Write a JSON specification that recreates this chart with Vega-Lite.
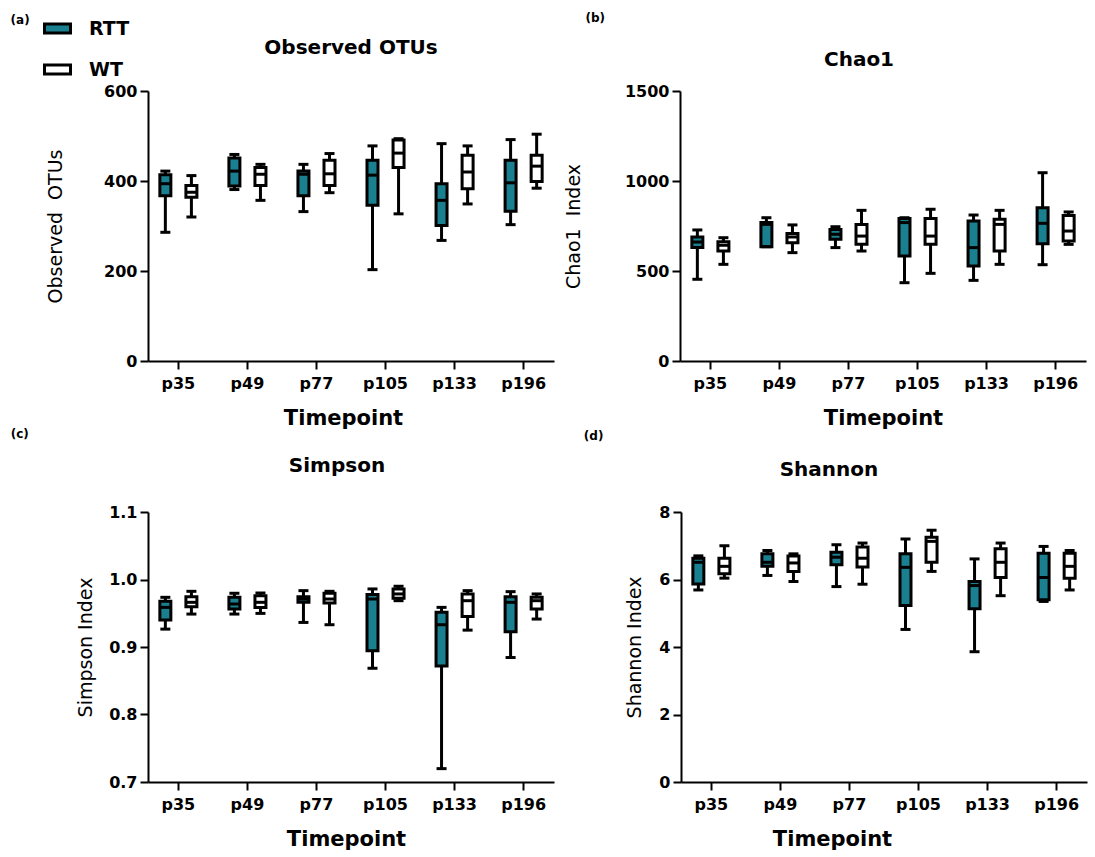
{
"$schema": "https://vega.github.io/schema/vega-lite/v6.json",
"background": "white",
"padding": {"left": 10, "top": 12, "right": 2, "bottom": 2},
"config": {
  "view": {"stroke": null},
  "font": "DejaVu Sans",
  "axis": {"domainColor": "black", "domainWidth": 2, "tickColor": "black", "tickWidth": 2, "tickSize": 8, "labelFont": "DejaVu Sans", "labelFontWeight": "bold", "labelFontSize": 16, "labelColor": "black", "titleFont": "DejaVu Sans", "titleColor": "black", "grid": false, "labelPadding": 3},
  "axisX": {"titleFontWeight": "bold", "titleFontSize": 21, "labelAngle": 0, "titlePadding": 16, "labelPadding": 6},
  "axisY": {"titleFontWeight": "normal", "titleFontSize": 19},
  "title": {"font": "DejaVu Sans", "fontSize": 20, "fontWeight": "bold", "color": "black"}
},
"datasets": {
  "obs": [
    {"t":"p35","g":"RTT","min":286,"q1":367,"med":394,"q3":414,"max":422},
    {"t":"p35","g":"WT","min":320,"q1":364,"med":375,"q3":390,"max":412},
    {"t":"p49","g":"RTT","min":381,"q1":389,"med":422,"q3":451,"max":459},
    {"t":"p49","g":"WT","min":357,"q1":390,"med":415,"q3":430,"max":437},
    {"t":"p77","g":"RTT","min":332,"q1":367,"med":415,"q3":422,"max":437},
    {"t":"p77","g":"WT","min":374,"q1":390,"med":416,"q3":446,"max":461},
    {"t":"p105","g":"RTT","min":203,"q1":346,"med":413,"q3":446,"max":478},
    {"t":"p105","g":"WT","min":327,"q1":430,"med":462,"q3":491,"max":494},
    {"t":"p133","g":"RTT","min":268,"q1":301,"med":357,"q3":394,"max":483},
    {"t":"p133","g":"WT","min":349,"q1":383,"med":420,"q3":457,"max":478},
    {"t":"p196","g":"RTT","min":303,"q1":333,"med":396,"q3":446,"max":492},
    {"t":"p196","g":"WT","min":384,"q1":399,"med":433,"q3":457,"max":504}
  ],
  "chao": [
    {"t":"p35","g":"RTT","min":454,"q1":630,"med":661,"q3":689,"max":728},
    {"t":"p35","g":"WT","min":537,"q1":611,"med":643,"q3":663,"max":685},
    {"t":"p49","g":"RTT","min":635,"q1":635,"med":759,"q3":769,"max":796},
    {"t":"p49","g":"WT","min":602,"q1":657,"med":689,"q3":709,"max":756},
    {"t":"p77","g":"RTT","min":630,"q1":676,"med":704,"q3":731,"max":746},
    {"t":"p77","g":"WT","min":611,"q1":648,"med":694,"q3":759,"max":837},
    {"t":"p105","g":"RTT","min":435,"q1":583,"med":769,"q3":791,"max":796},
    {"t":"p105","g":"WT","min":487,"q1":648,"med":694,"q3":791,"max":843},
    {"t":"p133","g":"RTT","min":448,"q1":528,"med":630,"q3":778,"max":811},
    {"t":"p133","g":"WT","min":537,"q1":611,"med":759,"q3":787,"max":837},
    {"t":"p196","g":"RTT","min":535,"q1":652,"med":765,"q3":852,"max":1046},
    {"t":"p196","g":"WT","min":648,"q1":667,"med":722,"q3":809,"max":828}
  ],
  "simpson": [
    {"t":"p35","g":"RTT","min":0.9265,"q1":0.9399,"med":0.9587,"q3":0.9677,"max":0.9736},
    {"t":"p35","g":"WT","min":0.9488,"q1":0.9597,"med":0.9662,"q3":0.9746,"max":0.9825},
    {"t":"p49","g":"RTT","min":0.9488,"q1":0.9563,"med":0.9637,"q3":0.9736,"max":0.9796},
    {"t":"p49","g":"WT","min":0.9498,"q1":0.9587,"med":0.9662,"q3":0.976,"max":0.98},
    {"t":"p77","g":"RTT","min":0.9364,"q1":0.9662,"med":0.9711,"q3":0.9746,"max":0.9835},
    {"t":"p77","g":"WT","min":0.933,"q1":0.9652,"med":0.9711,"q3":0.9796,"max":0.9825},
    {"t":"p105","g":"RTT","min":0.8685,"q1":0.8943,"med":0.9711,"q3":0.9776,"max":0.986},
    {"t":"p105","g":"WT","min":0.9686,"q1":0.9721,"med":0.9786,"q3":0.986,"max":0.99},
    {"t":"p133","g":"RTT","min":0.7198,"q1":0.872,"med":0.933,"q3":0.9513,"max":0.9587},
    {"t":"p133","g":"WT","min":0.925,"q1":0.9453,"med":0.9686,"q3":0.9786,"max":0.9835},
    {"t":"p196","g":"RTT","min":0.8844,"q1":0.9226,"med":0.9662,"q3":0.9746,"max":0.982},
    {"t":"p196","g":"WT","min":0.9414,"q1":0.9563,"med":0.9686,"q3":0.9736,"max":0.9786}
  ],
  "shannon": [
    {"t":"p35","g":"RTT","min":5.69,"q1":5.87,"med":6.51,"q3":6.63,"max":6.70},
    {"t":"p35","g":"WT","min":6.04,"q1":6.17,"med":6.39,"q3":6.63,"max":7.0},
    {"t":"p49","g":"RTT","min":6.12,"q1":6.39,"med":6.51,"q3":6.76,"max":6.86},
    {"t":"p49","g":"WT","min":5.94,"q1":6.24,"med":6.49,"q3":6.70,"max":6.76},
    {"t":"p77","g":"RTT","min":5.79,"q1":6.44,"med":6.66,"q3":6.81,"max":7.03},
    {"t":"p77","g":"WT","min":5.86,"q1":6.37,"med":6.63,"q3":6.96,"max":7.08},
    {"t":"p105","g":"RTT","min":4.52,"q1":5.23,"med":6.36,"q3":6.76,"max":7.20},
    {"t":"p105","g":"WT","min":6.24,"q1":6.51,"med":7.13,"q3":7.25,"max":7.46},
    {"t":"p133","g":"RTT","min":3.86,"q1":5.13,"med":5.82,"q3":5.94,"max":6.61},
    {"t":"p133","g":"WT","min":5.52,"q1":6.06,"med":6.51,"q3":6.91,"max":7.08},
    {"t":"p196","g":"RTT","min":5.35,"q1":5.40,"med":6.06,"q3":6.78,"max":6.98},
    {"t":"p196","g":"WT","min":5.69,"q1":6.04,"med":6.39,"q3":6.78,"max":6.86}
  ]
},
"spacing": 0,
"vconcat": [
 {"spacing": 10,
  "hconcat": [
  {"title": {"text": "(a)", "anchor": "start", "frame": "bounds", "fontSize": 12, "offset": 11, "dx": -36},
   "vconcat": [
    {"width": 406, "height": 270,
     "title": {"text": "Observed OTUs", "offset": 25},
     "data": {"name": "obs"},
     "encoding": {
       "x": {"field": "t", "type": "nominal", "sort": ["p35","p49","p77","p105","p133","p196"], "scale": {"paddingInner": 0.2, "paddingOuter": 0.04}, "axis": {"title": "Timepoint", "titleX": 195}},
       "xOffset": {"field": "g", "type": "nominal", "sort": ["RTT","WT"], "scale": {"paddingInner": 0, "paddingOuter": 0.06}}
     },
     "layer": [
      {"mark": {"type": "rule", "strokeWidth": 3, "color": "black"},
       "encoding": {"y": {"field": "min", "type": "quantitative", "scale": {"domain": [0, 600], "nice": false}, "axis": {"title": "Observed\u00a0 OTUs", "values": [0, 200, 400, 600], "titlePadding": 38}}, "y2": {"field": "max"}}},
      {"mark": {"type": "bar", "stroke": "black", "strokeWidth": 3, "size": 11, "fillOpacity": 1},
       "encoding": {"y": {"field": "q1", "type": "quantitative", "scale": {"domain": [0, 600], "nice": false}, "axis": {"title": "Observed\u00a0 OTUs", "values": [0, 200, 400, 600], "titlePadding": 38}}, "y2": {"field": "q3"},
        "fill": {"field": "g", "type": "nominal", "scale": {"domain": ["RTT","WT"], "range": ["#1a7f8e", "#ffffff"]},
          "legend": {"title": null, "orient": "none", "legendX": -105, "legendY": -77, "symbolType": "M-1,-0.35H1V0.35H-1Z", "symbolSize": 676, "symbolStrokeWidth": 3, "symbolStrokeColor": "black", "symbolOpacity": 1, "labelFontSize": 19, "labelFontWeight": "bold", "labelFont": "DejaVu Sans", "labelColor": "black", "rowPadding": 15, "labelOffset": 17}}}},
      {"mark": {"type": "tick", "color": "black", "thickness": 3, "size": 11, "opacity": 1},
       "encoding": {"y": {"field": "med", "type": "quantitative", "scale": {"domain": [0, 600], "nice": false}, "axis": {"title": "Observed\u00a0 OTUs", "values": [0, 200, 400, 600], "titlePadding": 38}}}},
      {"mark": {"type": "tick", "color": "black", "thickness": 3, "size": 10, "opacity": 1},
       "encoding": {"y": {"field": "min", "type": "quantitative", "scale": {"domain": [0, 600], "nice": false}, "axis": {"title": "Observed\u00a0 OTUs", "values": [0, 200, 400, 600], "titlePadding": 38}}}},
      {"mark": {"type": "tick", "color": "black", "thickness": 3, "size": 10, "opacity": 1},
       "encoding": {"y": {"field": "max", "type": "quantitative", "scale": {"domain": [0, 600], "nice": false}, "axis": {"title": "Observed\u00a0 OTUs", "values": [0, 200, 400, 600], "titlePadding": 38}}}}
     ]}
   ]},
  {"title": {"text": "(b)", "anchor": "start", "frame": "bounds", "fontSize": 12, "offset": 25, "dx": 21},
   "vconcat": [
    {"width": 406, "height": 270,
     "title": {"text": "Chao1", "offset": 13, "dx": -24},
     "data": {"name": "chao"},
     "encoding": {
       "x": {"field": "t", "type": "nominal", "sort": ["p35","p49","p77","p105","p133","p196"], "scale": {"paddingInner": 0.2, "paddingOuter": 0.04}, "axis": {"title": "Timepoint"}},
       "xOffset": {"field": "g", "type": "nominal", "sort": ["RTT","WT"], "scale": {"paddingInner": 0, "paddingOuter": 0.06}}
     },
     "layer": [
      {"mark": {"type": "rule", "strokeWidth": 3, "color": "black"},
       "encoding": {"y": {"field": "min", "type": "quantitative", "scale": {"domain": [0, 1500], "nice": false}, "axis": {"title": "Chao1\u00a0 Index", "values": [0, 500, 1000, 1500], "format": "d", "titlePadding": 41}}, "y2": {"field": "max"}}},
      {"mark": {"type": "bar", "stroke": "black", "strokeWidth": 3, "size": 11, "fillOpacity": 1},
       "encoding": {"y": {"field": "q1", "type": "quantitative", "scale": {"domain": [0, 1500], "nice": false}, "axis": {"title": "Chao1\u00a0 Index", "values": [0, 500, 1000, 1500], "format": "d", "titlePadding": 41}}, "y2": {"field": "q3"},
        "fill": {"field": "g", "type": "nominal", "scale": {"domain": ["RTT","WT"], "range": ["#1a7f8e", "#ffffff"]}, "legend": null}}},
      {"mark": {"type": "tick", "color": "black", "thickness": 3, "size": 11, "opacity": 1},
       "encoding": {"y": {"field": "med", "type": "quantitative", "scale": {"domain": [0, 1500], "nice": false}, "axis": {"title": "Chao1\u00a0 Index", "values": [0, 500, 1000, 1500], "format": "d", "titlePadding": 41}}}},
      {"mark": {"type": "tick", "color": "black", "thickness": 3, "size": 10, "opacity": 1},
       "encoding": {"y": {"field": "min", "type": "quantitative", "scale": {"domain": [0, 1500], "nice": false}, "axis": {"title": "Chao1\u00a0 Index", "values": [0, 500, 1000, 1500], "format": "d", "titlePadding": 41}}}},
      {"mark": {"type": "tick", "color": "black", "thickness": 3, "size": 10, "opacity": 1},
       "encoding": {"y": {"field": "max", "type": "quantitative", "scale": {"domain": [0, 1500], "nice": false}, "axis": {"title": "Chao1\u00a0 Index", "values": [0, 500, 1000, 1500], "format": "d", "titlePadding": 41}}}}
     ]}
   ]}
 ]},
 {"spacing": 29,
  "hconcat": [
  {"title": {"text": "(c)", "anchor": "start", "frame": "bounds", "fontSize": 12, "offset": 15, "dx": -66},
   "vconcat": [
    {"width": 406, "height": 270,
     "title": {"text": "Simpson", "offset": 28, "dx": -14},
     "data": {"name": "simpson"},
     "encoding": {
       "x": {"field": "t", "type": "nominal", "sort": ["p35","p49","p77","p105","p133","p196"], "scale": {"paddingInner": 0.2, "paddingOuter": 0.04}, "axis": {"title": "Timepoint", "titleX": 198}},
       "xOffset": {"field": "g", "type": "nominal", "sort": ["RTT","WT"], "scale": {"paddingInner": 0, "paddingOuter": 0.06}}
     },
     "layer": [
      {"mark": {"type": "rule", "strokeWidth": 3, "color": "black"},
       "encoding": {"y": {"field": "min", "type": "quantitative", "scale": {"domain": [0.7, 1.1], "nice": false, "zero": false}, "axis": {"title": "Simpson Index", "values": [0.7, 0.8, 0.9, 1.0, 1.1], "format": ".1f", "titlePadding": 13}}, "y2": {"field": "max"}}},
      {"mark": {"type": "bar", "stroke": "black", "strokeWidth": 3, "size": 11, "fillOpacity": 1},
       "encoding": {"y": {"field": "q1", "type": "quantitative", "scale": {"domain": [0.7, 1.1], "nice": false, "zero": false}, "axis": {"title": "Simpson Index", "values": [0.7, 0.8, 0.9, 1.0, 1.1], "format": ".1f", "titlePadding": 13}}, "y2": {"field": "q3"},
        "fill": {"field": "g", "type": "nominal", "scale": {"domain": ["RTT","WT"], "range": ["#1a7f8e", "#ffffff"]}, "legend": null}}},
      {"mark": {"type": "tick", "color": "black", "thickness": 3, "size": 11, "opacity": 1},
       "encoding": {"y": {"field": "med", "type": "quantitative", "scale": {"domain": [0.7, 1.1], "nice": false, "zero": false}, "axis": {"title": "Simpson Index", "values": [0.7, 0.8, 0.9, 1.0, 1.1], "format": ".1f", "titlePadding": 13}}}},
      {"mark": {"type": "tick", "color": "black", "thickness": 3, "size": 10, "opacity": 1},
       "encoding": {"y": {"field": "min", "type": "quantitative", "scale": {"domain": [0.7, 1.1], "nice": false, "zero": false}, "axis": {"title": "Simpson Index", "values": [0.7, 0.8, 0.9, 1.0, 1.1], "format": ".1f", "titlePadding": 13}}}},
      {"mark": {"type": "tick", "color": "black", "thickness": 3, "size": 10, "opacity": 1},
       "encoding": {"y": {"field": "max", "type": "quantitative", "scale": {"domain": [0.7, 1.1], "nice": false, "zero": false}, "axis": {"title": "Simpson Index", "values": [0.7, 0.8, 0.9, 1.0, 1.1], "format": ".1f", "titlePadding": 13}}}}
     ]}
   ]},
  {"title": {"text": "(d)", "anchor": "start", "frame": "bounds", "fontSize": 12, "offset": 17, "dx": -42},
   "vconcat": [
    {"width": 406, "height": 270,
     "title": {"text": "Shannon", "offset": 24, "dx": -55},
     "data": {"name": "shannon"},
     "encoding": {
       "x": {"field": "t", "type": "nominal", "sort": ["p35","p49","p77","p105","p133","p196"], "scale": {"paddingInner": 0.2, "paddingOuter": 0.04}, "axis": {"title": "Timepoint", "titleX": 151}},
       "xOffset": {"field": "g", "type": "nominal", "sort": ["RTT","WT"], "scale": {"paddingInner": 0, "paddingOuter": 0.06}}
     },
     "layer": [
      {"mark": {"type": "rule", "strokeWidth": 3, "color": "black"},
       "encoding": {"y": {"field": "min", "type": "quantitative", "scale": {"domain": [0, 8], "nice": false}, "axis": {"title": "Shannon Index", "values": [0, 2, 4, 6, 8], "titlePadding": 14}}, "y2": {"field": "max"}}},
      {"mark": {"type": "bar", "stroke": "black", "strokeWidth": 3, "size": 11, "fillOpacity": 1},
       "encoding": {"y": {"field": "q1", "type": "quantitative", "scale": {"domain": [0, 8], "nice": false}, "axis": {"title": "Shannon Index", "values": [0, 2, 4, 6, 8], "titlePadding": 14}}, "y2": {"field": "q3"},
        "fill": {"field": "g", "type": "nominal", "scale": {"domain": ["RTT","WT"], "range": ["#1a7f8e", "#ffffff"]}, "legend": null}}},
      {"mark": {"type": "tick", "color": "black", "thickness": 3, "size": 11, "opacity": 1},
       "encoding": {"y": {"field": "med", "type": "quantitative", "scale": {"domain": [0, 8], "nice": false}, "axis": {"title": "Shannon Index", "values": [0, 2, 4, 6, 8], "titlePadding": 14}}}},
      {"mark": {"type": "tick", "color": "black", "thickness": 3, "size": 10, "opacity": 1},
       "encoding": {"y": {"field": "min", "type": "quantitative", "scale": {"domain": [0, 8], "nice": false}, "axis": {"title": "Shannon Index", "values": [0, 2, 4, 6, 8], "titlePadding": 14}}}},
      {"mark": {"type": "tick", "color": "black", "thickness": 3, "size": 10, "opacity": 1},
       "encoding": {"y": {"field": "max", "type": "quantitative", "scale": {"domain": [0, 8], "nice": false}, "axis": {"title": "Shannon Index", "values": [0, 2, 4, 6, 8], "titlePadding": 14}}}}
     ]}
   ]}
 ]}
]
}
